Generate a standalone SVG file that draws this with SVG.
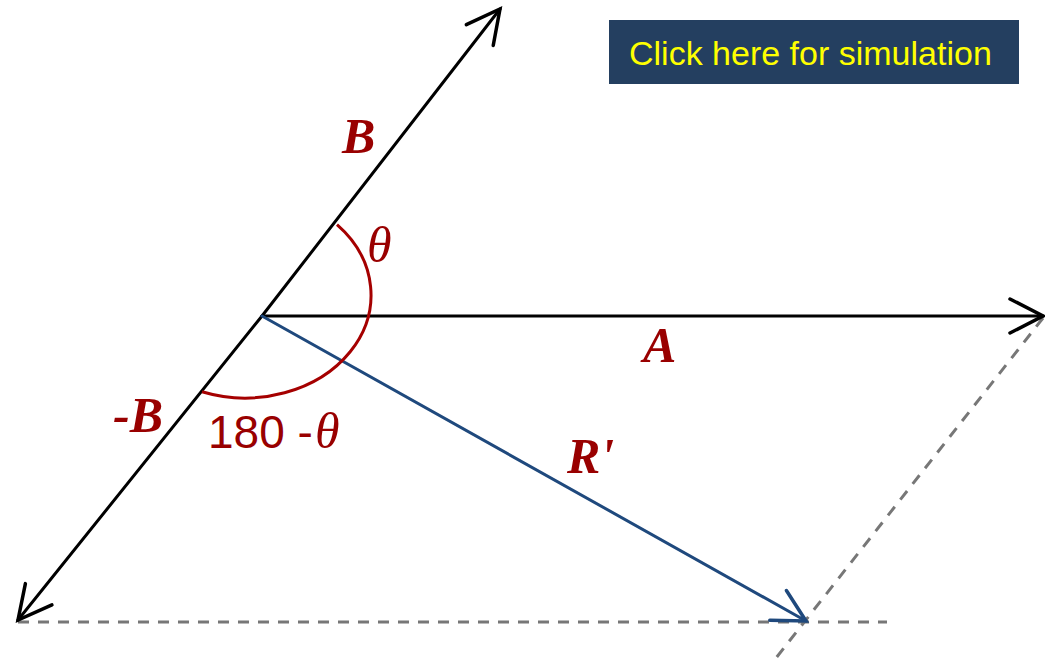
<svg xmlns="http://www.w3.org/2000/svg" width="1045" height="660" viewBox="0 0 1045 660">
<style>
.vec{stroke:#000;stroke-width:3;fill:none;stroke-linecap:round}
.res{stroke:#1F497D;stroke-width:3;fill:none;stroke-linecap:round}
.dash{stroke:#777;stroke-width:3;fill:none;stroke-dasharray:11 9}
.arc{stroke:#A50000;stroke-width:3;fill:none}
.lbl{font-family:"Liberation Serif","Times New Roman",serif;font-weight:bold;font-style:italic;font-size:50px;fill:#990000}
.th{font-family:"Liberation Serif","Times New Roman",serif;font-style:italic;font-size:50px;fill:#990000}
.num{font-family:"Liberation Sans",Arial,sans-serif;font-size:46px;fill:#990000}
.btn{font-family:"Liberation Sans",Arial,sans-serif;font-size:34px;fill:#FFFF00}
</style>
<defs>
<marker id="ah" markerUnits="userSpaceOnUse" orient="auto" markerWidth="50" markerHeight="50" refX="0" refY="0" viewBox="-40 -25 45 50" overflow="visible">
<path d="M-33,-17 L0,0 L-33,17" fill="none" stroke="#000" stroke-width="3.5" stroke-linecap="round" stroke-linejoin="miter"/>
</marker>
<marker id="ahb" markerUnits="userSpaceOnUse" orient="auto" markerWidth="50" markerHeight="50" refX="0" refY="0" viewBox="-40 -25 45 50" overflow="visible">
<path d="M-32,-17 L0,0 L-32,17" fill="none" stroke="#1F497D" stroke-width="3.5" stroke-linecap="round" stroke-linejoin="miter"/>
</marker>
</defs>
<g id="connectors">
<line class="dash" x1="18" y1="622" x2="887" y2="622"/>
<line class="dash" x1="1043" y1="318" x2="776" y2="658"/>
<line id="vecB" class="vec" x1="262" y1="316" x2="500" y2="9" marker-end="url(#ah)"/>
<line id="vecNegB" class="vec" x1="262" y1="316" x2="18" y2="620" marker-end="url(#ah)"/>
<line id="vecA" class="vec" x1="262" y1="316" x2="1043" y2="316" marker-end="url(#ah)"/>
<line id="vecR" class="res" x1="262" y1="316" x2="806" y2="621" marker-end="url(#ahb)"/>
<path id="angleArc" class="arc" d="M337,224.6 A126,103 0 0,1 202,391.8"/>
</g>
<g id="labels">
<text id="labelB" class="lbl" x="342" y="153">B</text>
<text id="labelTheta" class="th" x="367" y="262">θ</text>
<text id="labelA" class="lbl" x="643" y="362">A</text>
<text id="labelNegB" class="lbl" x="113" y="432">-B</text>
<text id="labelR" class="lbl" x="567" y="473">R'</text>
<text id="labelSupp" class="num" x="208" y="448">180 -<tspan class="th" x="315">θ</tspan></text>
</g>
<g id="button">
<rect x="609" y="20" width="410" height="64" fill="#243F60"/>
<text class="btn" x="629" y="65">Click here for simulation</text>
</g>
</svg>
